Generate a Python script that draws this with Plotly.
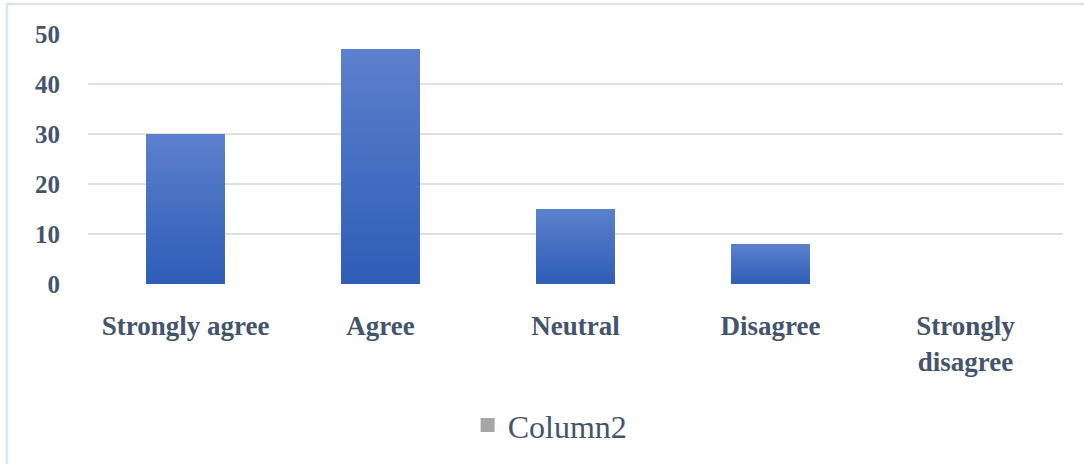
import plotly.graph_objects as go

# Survey response distribution
categories = ["Strongly agree", "Agree", "Neutral", "Disagree", "Strongly<br>disagree"]
values = [30, 47, 15, 8, 0]
series_name = "Column2"
y_ticks = [0, 10, 20, 30, 40, 50]

SERIF = "Liberation Serif, Times New Roman, DejaVu Serif, serif"
TEXT = "#44546A"
GRID = "#DDE1E7"
BAR_TOP = "#5C80CC"
BAR_BOTTOM = "#2E5DB7"
BAR_WIDTH = 0.405

fig = go.Figure()

# Each column is a filled polygon so it can carry a vertical gradient
for i, v in enumerate(values):
    if v <= 0:
        continue
    x0, x1 = i - BAR_WIDTH / 2, i + BAR_WIDTH / 2
    fig.add_trace(go.Scatter(
        x=[x0, x1, x1, x0, x0],
        y=[0, 0, v, v, 0],
        mode="lines",
        line=dict(width=0, color=BAR_BOTTOM),
        fill="toself",
        fillgradient=dict(type="vertical",
                          colorscale=[[0, BAR_BOTTOM], [1, BAR_TOP]]),
        showlegend=False,
        hoverinfo="skip",
    ))

# Legend entry
fig.add_trace(go.Scatter(
    x=[None], y=[None], name=series_name, mode="markers",
    marker=dict(symbol="square", size=14, color="#A6A6A6"),
    showlegend=True,
))

# Outer chart frame
fig.add_shape(type="rect", xref="paper", yref="paper",
              x0=-81 / 975, x1=1.2, y0=-2, y1=1 + 30 / 250,
              line=dict(color="#DCE3EB", width=2.5), layer="below")

fig.update_layout(
    width=1084, height=464,
    margin=dict(l=88, r=21, t=34, b=180),
    plot_bgcolor="white", paper_bgcolor="white",
    font=dict(family=SERIF, color=TEXT),
    showlegend=True,
    legend=dict(orientation="h", x=0.474, xanchor="center",
                y=-0.565, yanchor="middle",
                font=dict(size=32, color=TEXT, family=SERIF),
                itemwidth=30, bgcolor="rgba(0,0,0,0)"),
    xaxis=dict(
        range=[-0.5, 4.5],
        tickmode="array", tickvals=list(range(len(categories))),
        ticktext=[f"<b>{c}</b>" for c in categories],
        tickfont=dict(size=27, color=TEXT, family=SERIF),
        showgrid=False, zeroline=False, showline=False,
        ticks="outside", ticklen=18, tickcolor="rgba(0,0,0,0)",
        fixedrange=True,
    ),
    yaxis=dict(
        range=[0, 50],
        tickmode="array", tickvals=y_ticks,
        ticktext=[f"<b>{t}</b>" for t in y_ticks],
        tickfont=dict(size=25, color=TEXT, family=SERIF),
        showgrid=True, gridcolor=GRID, gridwidth=2,
        zeroline=False, showline=False,
        ticks="outside", ticklen=22, tickcolor="rgba(0,0,0,0)",
        fixedrange=True,
    ),
)

fig.write_html("out.html")
